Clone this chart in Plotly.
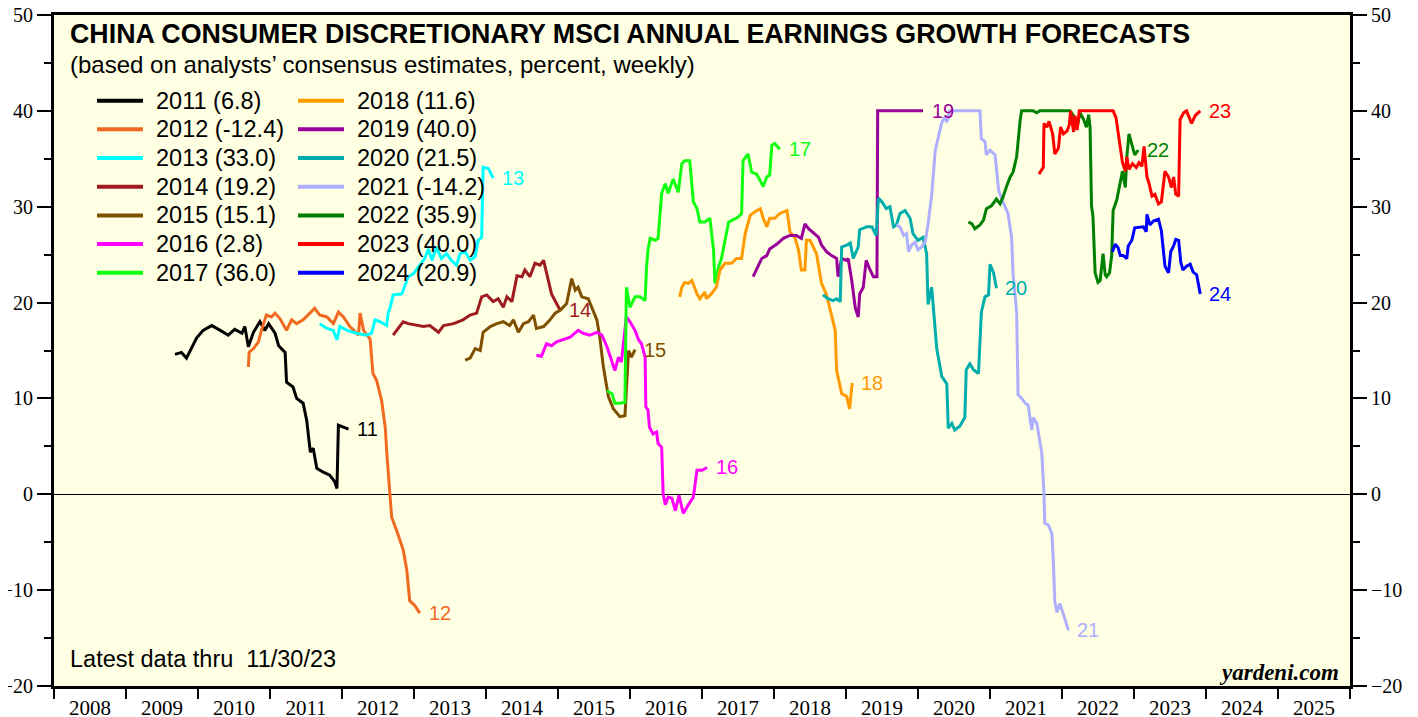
import plotly.graph_objects as go

# ---------------- data (decimal year, percent) ----------------
YEARS = [2011, 2012, 2013, 2014, 2015, 2016, 2017, 2018, 2019, 2020, 2021, 2022, 2023, 2024]
COLORS = ["#000000", "#F26A22", "#00FFFF", "#9E1B20", "#7F4F00", "#FF00FF", "#11FF11",
          "#FF9A00", "#990099", "#00ADAD", "#AFAFFF", "#008000", "#FF0000", "#0000FF"]

X2011 = [2009.68, 2009.77, 2009.84, 2009.91, 2009.98, 2010.07, 2010.19, 2010.31, 2010.42, 2010.51,
         2010.61, 2010.65, 2010.70, 2010.77, 2010.86, 2010.93, 2010.98, 2011.07, 2011.12, 2011.21,
         2011.23, 2011.32, 2011.37, 2011.46, 2011.51, 2011.56, 2011.60, 2011.65, 2011.74, 2011.83,
         2011.90, 2011.93, 2011.95, 2012.02, 2012.09]
Y2011 = [14.6, 14.8, 14.2, 15.2, 16.3, 17.1, 17.6, 17.1, 16.6, 17.2,
         16.8, 17.5, 15.4, 16.9, 18.0, 17.1, 17.8, 16.8, 15.5, 14.8,
         11.7, 11.2, 10.0, 9.5, 7.7, 4.4, 4.8, 2.7, 2.3, 2.0,
         1.3, 0.6, 7.2, 7.0, 6.8]

X2012 = [2010.70, 2010.71, 2010.77, 2010.84, 2010.88, 2010.95, 2011.02, 2011.07, 2011.14, 2011.23,
         2011.30, 2011.37, 2011.46, 2011.56, 2011.62, 2011.69, 2011.79, 2011.88, 2011.95, 2012.02,
         2012.11, 2012.23, 2012.25, 2012.30, 2012.39, 2012.43, 2012.48, 2012.55, 2012.60, 2012.63,
         2012.67, 2012.69, 2012.76, 2012.85, 2012.90, 2012.94, 2013.01, 2013.08]
Y2012 = [13.3, 14.8, 15.2, 15.9, 17.1, 18.7, 18.5, 18.9, 18.3, 17.1,
         18.2, 17.8, 18.2, 18.9, 19.4, 18.7, 18.5, 17.8, 19.0, 18.5,
         17.5, 16.6, 18.9, 17.1, 16.2, 12.6, 11.9, 9.8, 7.0, 3.5,
         0.1, -2.4, -3.8, -5.8, -7.9, -11.1, -11.6, -12.4]

X2013 = [2011.69, 2011.79, 2011.88, 2011.93, 2011.97, 2012.07, 2012.20, 2012.34, 2012.41, 2012.46,
         2012.53, 2012.62, 2012.64, 2012.67, 2012.71, 2012.83, 2012.92, 2012.99, 2013.08, 2013.15,
         2013.20, 2013.25, 2013.31, 2013.38, 2013.45, 2013.52, 2013.59, 2013.64, 2013.71, 2013.78,
         2013.85, 2013.89, 2013.94, 2013.96, 2014.03, 2014.10]
Y2013 = [17.8, 17.3, 17.1, 16.1, 17.5, 17.1, 16.8, 16.6, 16.8, 18.2,
         18.0, 17.6, 18.9, 19.5, 20.8, 20.9, 22.7, 23.0, 23.9, 24.6,
         25.6, 24.4, 25.8, 24.6, 25.1, 24.4, 23.9, 25.1, 25.3, 24.4,
         24.8, 26.5, 26.8, 34.1, 34.0, 33.0]

X2014 = [2012.71, 2012.85, 2012.92, 2013.04, 2013.13, 2013.22, 2013.34, 2013.41, 2013.55, 2013.68,
         2013.78, 2013.87, 2013.94, 2014.01, 2014.10, 2014.17, 2014.24, 2014.29, 2014.36, 2014.43,
         2014.50, 2014.54, 2014.61, 2014.68, 2014.75, 2014.80, 2014.87, 2014.91, 2014.98, 2015.03]
Y2014 = [16.6, 18.0, 17.8, 17.6, 17.5, 17.6, 16.9, 17.6, 17.8, 18.2,
         18.7, 18.9, 20.6, 20.8, 20.1, 20.4, 19.5, 20.6, 20.1, 22.8,
         22.7, 23.4, 22.7, 24.1, 23.9, 24.4, 22.0, 20.9, 19.9, 19.2]

X2015 = [2013.71, 2013.78, 2013.85, 2013.92, 2013.96, 2014.06, 2014.15, 2014.24, 2014.33, 2014.38,
         2014.45, 2014.52, 2014.59, 2014.66, 2014.70, 2014.80, 2014.89, 2014.96, 2015.03, 2015.12,
         2015.19, 2015.24, 2015.28, 2015.33, 2015.42, 2015.47, 2015.54, 2015.58, 2015.63, 2015.70,
         2015.77, 2015.86, 2015.93, 2015.98, 2016.02, 2016.07]
Y2015 = [14.0, 14.2, 15.2, 15.0, 16.9, 17.5, 17.8, 18.0, 17.6, 18.2,
         16.9, 17.8, 18.0, 18.7, 17.3, 17.5, 18.2, 18.9, 19.2, 19.9,
         22.5, 21.3, 21.6, 20.6, 20.4, 19.5, 18.2, 16.4, 13.3, 10.2,
         8.9, 8.1, 8.2, 15.0, 14.3, 15.1]

X2016 = [2014.70, 2014.77, 2014.84, 2014.91, 2014.98, 2015.07, 2015.17, 2015.28, 2015.35, 2015.44,
         2015.54, 2015.61, 2015.68, 2015.72, 2015.79, 2015.84, 2015.88, 2015.95, 2016.00, 2016.07,
         2016.12, 2016.16, 2016.21, 2016.22, 2016.25, 2016.27, 2016.32, 2016.37, 2016.39, 2016.44,
         2016.46, 2016.49, 2016.53, 2016.58, 2016.63, 2016.68, 2016.74, 2016.81, 2016.88, 2016.93,
         2017.00, 2017.07]
Y2016 = [14.5, 14.4, 15.7, 15.5, 15.9, 16.1, 16.4, 17.1, 16.8, 16.6,
         16.9, 16.6, 15.4, 14.5, 12.9, 14.3, 13.8, 18.5, 18.0, 17.1,
         16.1, 15.7, 14.3, 9.1, 8.8, 7.0, 6.3, 6.5, 5.3, 4.9,
         0.1, -1.1, -0.3, -0.4, -1.7, -0.1, -2.0, -1.1, -0.3, 2.5,
         2.5, 2.8]

X2017 = [2015.68, 2015.75, 2015.79, 2015.86, 2015.93, 2015.95, 2016.00, 2016.07, 2016.14, 2016.21,
         2016.23, 2016.25, 2016.28, 2016.35, 2016.39, 2016.44, 2016.49, 2016.53, 2016.60, 2016.67,
         2016.72, 2016.76, 2016.83, 2016.88, 2016.93, 2016.97, 2017.04, 2017.11, 2017.16, 2017.18,
         2017.23, 2017.27, 2017.37, 2017.43, 2017.50, 2017.55, 2017.57, 2017.64, 2017.69, 2017.76,
         2017.85, 2017.90, 2017.94, 2017.97, 2018.01, 2018.08]
Y2017 = [10.8, 10.5, 9.5, 9.5, 9.6, 21.6, 19.5, 20.6, 20.6, 20.2,
         23.7, 25.5, 26.7, 26.5, 26.7, 31.4, 32.4, 31.4, 32.9, 31.5,
         34.5, 34.8, 34.8, 30.5, 29.8, 28.4, 28.4, 28.8, 25.5, 22.0,
         23.7, 24.6, 28.4, 28.6, 28.9, 29.3, 34.8, 35.5, 33.6, 33.4,
         32.1, 33.1, 33.3, 36.4, 36.6, 36.0]

X2018 = [2016.69, 2016.72, 2016.76, 2016.81, 2016.86, 2016.93, 2016.97, 2017.04, 2017.06, 2017.13,
         2017.20, 2017.25, 2017.32, 2017.41, 2017.48, 2017.55, 2017.60, 2017.67, 2017.74, 2017.81,
         2017.85, 2017.90, 2017.94, 2018.01, 2018.08, 2018.18, 2018.20, 2018.22, 2018.29, 2018.34,
         2018.38, 2018.43, 2018.45, 2018.50, 2018.59, 2018.66, 2018.73, 2018.80, 2018.85, 2018.87,
         2018.94, 2019.01, 2019.05, 2019.08, 2019.09]
Y2018 = [20.6, 21.6, 22.1, 22.0, 22.3, 20.9, 20.4, 21.1, 20.4, 20.9,
         21.6, 23.4, 24.1, 24.1, 24.6, 24.6, 27.2, 29.1, 29.5, 29.8,
         28.8, 27.9, 28.8, 28.8, 29.3, 29.6, 28.6, 27.4, 26.8, 25.5,
         23.4, 23.4, 26.5, 26.5, 25.1, 22.0, 20.8, 18.5, 17.1, 12.9,
         10.5, 10.2, 8.9, 11.2, 11.6]

X2019 = [2017.71, 2017.78, 2017.83, 2017.90, 2017.94, 2018.04, 2018.13, 2018.22, 2018.31, 2018.38,
         2018.43, 2018.48, 2018.55, 2018.62, 2018.66, 2018.73, 2018.80, 2018.87, 2018.89, 2018.94,
         2019.01, 2019.03, 2019.08, 2019.13, 2019.17, 2019.19, 2019.24, 2019.28, 2019.33, 2019.38,
         2019.43, 2019.44, 2020.07]
Y2019 = [22.7, 23.9, 24.6, 24.9, 25.6, 26.1, 26.7, 27.0, 27.0, 26.7,
         28.2, 27.7, 27.2, 26.8, 26.0, 25.3, 24.9, 24.6, 22.7, 24.6,
         24.4, 24.6, 22.3, 19.4, 18.5, 20.9, 21.6, 24.4, 23.5, 22.7,
         22.7, 40.0, 40.0]

X2020 = [2018.68, 2018.75, 2018.82, 2018.87, 2018.92, 2018.94, 2019.01, 2019.06, 2019.10, 2019.17,
         2019.19, 2019.29, 2019.36, 2019.42, 2019.45, 2019.50, 2019.56, 2019.61, 2019.66, 2019.70,
         2019.75, 2019.82, 2019.89, 2019.93, 2020.00, 2020.07, 2020.12, 2020.14, 2020.19, 2020.24,
         2020.26, 2020.33, 2020.40, 2020.42, 2020.47, 2020.51, 2020.58, 2020.65, 2020.67, 2020.72,
         2020.77, 2020.84, 2020.88, 2020.93, 2020.98, 2021.00, 2021.05, 2021.09]
Y2020 = [20.8, 20.4, 20.2, 20.4, 20.1, 25.8, 26.0, 26.2, 24.6, 25.8,
         27.6, 27.9, 27.9, 27.0, 30.9, 30.5, 29.8, 30.0, 27.9, 28.1,
         29.3, 29.6, 28.8, 27.2, 26.5, 26.8, 25.1, 19.8, 21.6, 16.4,
         15.2, 12.3, 11.5, 6.9, 7.4, 6.7, 7.1, 8.0, 13.0, 13.6,
         13.0, 12.6, 19.0, 20.6, 20.8, 24.0, 23.1, 21.5]

X2021 = [2019.70, 2019.75, 2019.80, 2019.84, 2019.87, 2019.91, 2019.96, 2020.00, 2020.05, 2020.10,
         2020.14, 2020.19, 2020.24, 2020.28, 2020.33, 2020.38, 2020.40, 2020.44, 2020.86, 2020.88,
         2020.93, 2020.95, 2021.00, 2021.07, 2021.12, 2021.18, 2021.25, 2021.30, 2021.32, 2021.37,
         2021.39, 2021.44, 2021.49, 2021.53, 2021.58, 2021.60, 2021.65, 2021.69, 2021.72, 2021.75,
         2021.76, 2021.81, 2021.86, 2021.88, 2021.90, 2021.93, 2021.97, 2022.01, 2022.04, 2022.09]
Y2021 = [28.1, 27.9, 27.0, 27.2, 25.3, 26.0, 26.3, 25.5, 25.8, 26.3,
         28.2, 31.2, 35.9, 37.3, 38.8, 39.4, 38.8, 40.0, 40.0, 37.1,
         36.8, 35.4, 35.9, 35.4, 31.7, 30.5, 29.3, 26.8, 23.0, 19.0,
         10.4, 10.0, 9.5, 9.3, 6.7, 8.0, 7.4, 5.6, 4.3, 0.0,
         -3.0, -3.2, -4.1, -7.1, -11.2, -12.3, -11.4, -12.3, -13.1, -14.2]

X2022 = [2020.70, 2020.75, 2020.79, 2020.86, 2020.91, 2020.95, 2021.02, 2021.09, 2021.14, 2021.18,
         2021.23, 2021.28, 2021.32, 2021.37, 2021.42, 2021.44, 2021.60, 2021.65, 2021.69, 2022.11,
         2022.16, 2022.21, 2022.25, 2022.30, 2022.34, 2022.37, 2022.39, 2022.41, 2022.43, 2022.46,
         2022.50, 2022.53, 2022.57, 2022.60, 2022.62, 2022.66, 2022.69, 2022.71, 2022.76, 2022.81,
         2022.84, 2022.88, 2022.90, 2022.93, 2022.98, 2023.01, 2023.06]
Y2022 = [28.4, 28.2, 27.7, 28.1, 28.6, 29.8, 30.1, 30.8, 30.3, 31.0,
         32.1, 33.1, 33.6, 35.2, 39.1, 40.0, 40.0, 39.8, 40.0, 40.0,
         39.5, 38.3, 39.8, 39.1, 38.3, 39.6, 38.3, 30.1, 29.0, 23.1,
         22.1, 22.3, 25.1, 22.9, 22.7, 23.1, 24.9, 29.6, 30.7, 32.4,
         33.7, 32.0, 35.2, 37.6, 36.1, 35.4, 35.9]

X2023 = [2021.68, 2021.74, 2021.75, 2021.79, 2021.82, 2021.87, 2021.90, 2021.95, 2021.98, 2022.02,
         2022.07, 2022.10, 2022.12, 2022.16, 2022.18, 2022.21, 2022.24, 2022.71, 2022.75, 2022.80,
         2022.84, 2022.88, 2022.90, 2022.93, 2022.98, 2023.03, 2023.07, 2023.11, 2023.14, 2023.18,
         2023.21, 2023.25, 2023.29, 2023.34, 2023.38, 2023.43, 2023.48, 2023.52, 2023.55, 2023.58,
         2023.62, 2023.64, 2023.69, 2023.73, 2023.80, 2023.85, 2023.92]
Y2023 = [33.4, 34.1, 38.7, 38.3, 38.9, 37.6, 35.5, 36.1, 38.3, 37.6,
         37.9, 38.5, 40.0, 37.8, 39.5, 38.0, 40.0, 40.0, 39.3, 36.7,
         34.6, 33.7, 35.2, 33.9, 34.5, 34.1, 34.6, 34.2, 36.3, 33.1,
         32.4, 31.1, 31.3, 30.3, 30.5, 33.7, 33.1, 32.0, 33.1, 31.3,
         31.1, 39.1, 39.8, 40.0, 38.7, 39.5, 40.0]

X2024 = [2022.70, 2022.74, 2022.78, 2022.81, 2022.85, 2022.90, 2022.92, 2022.97, 2023.01, 2023.08,
         2023.13, 2023.17, 2023.18, 2023.22, 2023.27, 2023.34, 2023.38, 2023.43, 2023.48, 2023.51,
         2023.55, 2023.58, 2023.62, 2023.65, 2023.68, 2023.73, 2023.78, 2023.82, 2023.87, 2023.92]
Y2024 = [25.3, 26.1, 25.7, 24.9, 24.9, 24.6, 25.9, 26.5, 27.8, 27.9,
         27.9, 27.4, 29.2, 28.1, 28.5, 28.7, 27.5, 23.8, 23.1, 25.3,
         25.9, 26.6, 26.5, 24.2, 23.4, 23.8, 24.0, 23.2, 22.9, 20.9]

XS = [X2011, X2012, X2013, X2014, X2015, X2016, X2017, X2018, X2019, X2020, X2021, X2022, X2023, X2024]
YS = [Y2011, Y2012, Y2013, Y2014, Y2015, Y2016, Y2017, Y2018, Y2019, Y2020, Y2021, Y2022, Y2023, Y2024]

AXIS_YEARS = list(range(2008, 2026))

SANS = "Liberation Sans, Arial, Helvetica, sans-serif"
SERIF = "Liberation Serif, Times New Roman, serif"

# the page places the figure 8 px from the window's top-left corner
OFF = 8
# plot area in window pixels
PL, PR, PT, PB = 54, 1350, 15, 686
W, H = 1418 - OFF, 717 - OFF
L, R, T, B = PL - OFF, PR - OFF, PT - OFF, PB - OFF


def px(x):
    """window x pixel -> paper fraction"""
    return (x - PL) / (PR - PL)


def py(y):
    """window y pixel -> paper fraction"""
    return (PB - y) / (PB - PT)


fig = go.Figure()

n = len(YEARS)
for i, (yr, xs, ys, col) in enumerate(zip(YEARS, XS, YS, COLORS)):
    # the last series is plotted against the right-hand axis (identical scale) so it is drawn
    fig.add_trace(go.Scatter(x=xs, y=ys, mode="lines", line=dict(color=col, width=3),
                             yaxis="y2" if i == n - 1 else "y",
                             showlegend=False, hoverinfo="skip"))
    fig.add_annotation(x=xs[-1], y=ys[-1], text=str(yr)[2:], xanchor="left", yanchor="middle",
                       xshift=7, showarrow=False, font=dict(family=SANS, size=20, color=col))

# manual two-column legend
for i, (yr, ys, col) in enumerate(zip(YEARS, YS, COLORS)):
    c, r = divmod(i, 7)
    yy = 100.7 + r * 28.67
    x0 = 97 + c * 201
    fig.add_shape(type="line", xref="paper", yref="paper", x0=px(x0), x1=px(x0 + 46),
                  y0=py(yy), y1=py(yy), line=dict(color=col, width=4))
    fig.add_annotation(xref="paper", yref="paper", x=px(x0 + 57), y=py(yy), xanchor="left",
                       yanchor="middle", showarrow=False, text=f"{yr} ({ys[-1]:.1f})",
                       font=dict(family=SANS, size=23.5, color="black"))

fig.add_annotation(xref="paper", yref="paper", x=px(68), y=py(34), xanchor="left", yanchor="middle",
                   showarrow=False,
                   text="<b>CHINA CONSUMER DISCRETIONARY MSCI ANNUAL EARNINGS GROWTH FORECASTS</b>",
                   font=dict(family=SANS, size=26.8, color="black"))
fig.add_annotation(xref="paper", yref="paper", x=px(68), y=py(64), xanchor="left", yanchor="middle",
                   showarrow=False,
                   text="(based on analysts\u2019 consensus estimates, percent, weekly)",
                   font=dict(family=SANS, size=24, color="black"))
fig.add_annotation(xref="paper", yref="paper", x=px(68), y=py(659), xanchor="left", yanchor="middle",
                   showarrow=False, text="Latest data thru  11/30/23",
                   font=dict(family=SANS, size=23.5, color="black"))
fig.add_annotation(xref="paper", yref="paper", x=px(1341), y=py(672), xanchor="right", yanchor="middle",
                   showarrow=False, text="<b><i>yardeni.com</i></b>",
                   font=dict(family=SERIF, size=23, color="black"))

yax = dict(range=[-20, 50], tickvals=list(range(-20, 51, 10)), ticks="outside", ticklen=14,
           tickwidth=1.5, tickcolor="black", showgrid=False, showline=True, linewidth=3,
           linecolor="black", tickfont=dict(family=SERIF, size=20, color="black"),
           ticklabeloverflow="allow",
           minor=dict(tickvals=list(range(-15, 50, 10)), ticks="outside", ticklen=7,
                      tickwidth=1.5, tickcolor="black", showgrid=False),
           fixedrange=True, automargin=False)

fig.update_layout(
    width=W, height=H,
    autosize=False,
    margin=dict(l=L, r=W - R, t=T, b=H - B, pad=0, autoexpand=False),
    paper_bgcolor="white",
    plot_bgcolor="#FFFFE3",
    xaxis=dict(range=[2008, 2026], tickvals=[y + 0.5 for y in AXIS_YEARS],
               ticktext=[str(y) for y in AXIS_YEARS], ticks="outside", ticklen=1,
               tickcolor="rgba(0,0,0,0)", showgrid=False, zeroline=False,
               showline=True, linewidth=3, linecolor="black", mirror=True,
               tickfont=dict(family=SERIF, size=21, color="black"),
               ticklabeloverflow="allow",
               minor=dict(tickvals=AXIS_YEARS + [2026], ticks="outside", ticklen=10, tickwidth=2,
                          tickcolor="black", showgrid=False),
               fixedrange=True, automargin=False),
    yaxis=dict(**yax, side="left", zeroline=True, zerolinecolor="black", zerolinewidth=1),
    yaxis2=dict(**yax, side="right", overlaying="y", zeroline=False),
    showlegend=False,
)

fig.write_html("out.html")
